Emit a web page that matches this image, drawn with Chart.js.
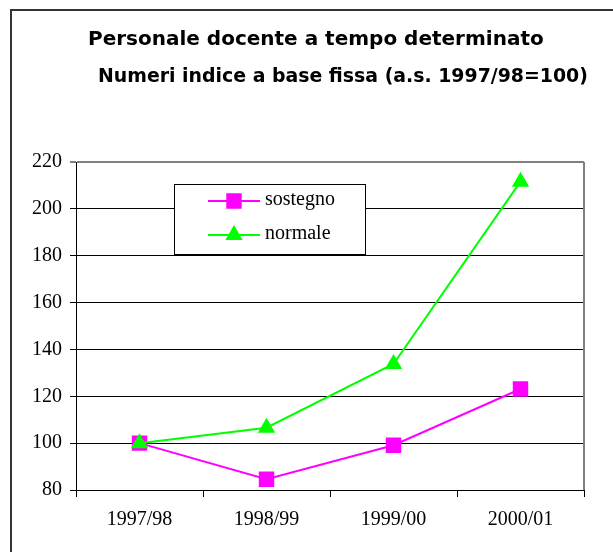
<!DOCTYPE html>
<html>
<head>
<meta charset="utf-8">
<script src="https://cdn.jsdelivr.net/npm/chart.js@4/dist/chart.umd.min.js"></script>
<style>
  html, body { margin: 0; padding: 0; background: #fff; }
  #wrap { width: 613px; height: 552px; position: relative; }
</style>
</head>
<body>
<div id="wrap"><canvas id="chart" width="613" height="552"></canvas></div>
<script>
/* ===== DATA ===== */
const years = ["1997/98", "1998/99", "1999/00", "2000/01"];
const sostegno = [100, 84.6, 99.1, 123.1];
const normale = [100, 106.6, 133.8, 211.6];
const yTicks = [80, 100, 120, 140, 160, 180, 200, 220];

const titleText = "Personale docente a tempo determinato";
const subtitleText = "Numeri indice a base fissa (a.s. 1997/98=100)";

/* ===== PLUGINS ===== */
// outer frame + titles
const frame = {
  id: "frame",
  beforeDraw(chart) {
    const ctx = chart.ctx;
    ctx.save();
    ctx.fillStyle = "#fff";
    ctx.fillRect(0, 0, chart.width, chart.height);
    ctx.strokeStyle = "#333";
    ctx.lineWidth = 2;
    ctx.strokeRect(11, 10, 700, 700);
    ctx.fillStyle = "#000";
    ctx.textBaseline = "middle";
    ctx.textAlign = "left";
    ctx.font = "bold 20px 'DejaVu Sans'";
    ctx.fillText(titleText, 88, 40);
    ctx.font = "bold 18.9px 'DejaVu Sans'";
    ctx.fillText(subtitleText, 98, 77);
    ctx.restore();
  }
};

// grey right border of plot
const plotBorder = {
  id: "plotBorder",
  beforeDatasetsDraw(chart) {
    const a = chart.chartArea, ctx = chart.ctx;
    ctx.save();
    ctx.strokeStyle = "#808080";
    ctx.lineWidth = 2;
    ctx.beginPath();
    ctx.moveTo(a.right, a.top);
    ctx.lineTo(a.right, a.bottom);
    ctx.stroke();
    ctx.restore();
  }
};

// boxed legend inside the plot
const boxLegend = {
  id: "boxLegend",
  afterDraw(chart) {
    const ctx = chart.ctx;
    const x = 174, y = 184, w = 191, h = 70;
    ctx.save();
    ctx.fillStyle = "#fff";
    ctx.fillRect(x, y, w, h);
    ctx.strokeStyle = "#000";
    ctx.lineWidth = 1;
    ctx.strokeRect(x + 0.5, y + 0.5, w, h);
    chart.data.datasets.forEach((ds, i) => {
      const cy = y + 17 + i * 34;
      ctx.strokeStyle = ds.borderColor;
      ctx.lineWidth = 2;
      ctx.beginPath();
      ctx.moveTo(x + 34, cy);
      ctx.lineTo(x + 86, cy);
      ctx.stroke();
      Chart.helpers.drawPoint(ctx, {
        pointStyle: ds.pointStyle, radius: ds.pointRadius,
        borderWidth: 1, rotation: 0
      }, x + 60, cy);
      ctx.fillStyle = ds.pointBackgroundColor;
      ctx.fill();
      ctx.fillStyle = "#000";
      ctx.font = "20px 'Liberation Serif'";
      ctx.textBaseline = "middle";
      ctx.textAlign = "left";
      ctx.fillText(ds.label, x + 91, cy - 1);
    });
    ctx.restore();
  }
};

/* ===== CHART ===== */
new Chart(document.getElementById("chart"), {
  type: "line",
  data: {
    labels: years,
    datasets: [
      {
        label: "sostegno",
        data: sostegno,
        order: 1,
        borderColor: "#ff00ff",
        backgroundColor: "#ff00ff",
        pointBackgroundColor: "#ff00ff",
        pointBorderColor: "#ff00ff",
        pointStyle: "rect",
        pointRadius: 9.5,
        borderWidth: 2,
        tension: 0
      },
      {
        label: "normale",
        data: normale,
        order: 0,
        borderColor: "#00ff00",
        backgroundColor: "#00ff00",
        pointBackgroundColor: "#00ff00",
        pointBorderColor: "#00ff00",
        pointStyle: "triangle",
        pointRadius: 8,
        borderWidth: 2,
        tension: 0
      }
    ]
  },
  options: {
    responsive: false,
    animation: false,
    layout: { padding: { left: 0, top: 162, right: 29, bottom: 0 } },
    plugins: {
      legend: { display: false },
      title: { display: false },
      tooltip: { enabled: false }
    },
    scales: {
      x: {
        offset: true,
        grid: {
          offset: true,
          drawOnChartArea: false,
          color: "#000",
          tickLength: 7
        },
        border: { color: "#000", width: 1 },
        ticks: {
          color: "#000",
          font: { family: "'Liberation Serif'", size: 20 },
          padding: 11,
          maxRotation: 0
        },
        afterFit(scale) { scale.height = 62; }
      },
      y: {
        min: 80,
        max: 220,
        afterBuildTicks(scale) {
          scale.ticks = yTicks.map(v => ({ value: v }));
        },
        grid: {
          color: ctx => ctx.tick && ctx.tick.value === 220 ? "#808080" : "#000",
          lineWidth: ctx => ctx.tick && ctx.tick.value === 220 ? 2 : 1,
          tickLength: 6
        },
        border: { color: "#000", width: 1 },
        ticks: {
          color: "#000",
          font: { family: "'Liberation Serif'", size: 20 },
          padding: 8
        },
        afterFit(scale) { scale.width = 76; }
      }
    }
  },
  plugins: [frame, plotBorder, boxLegend]
});
</script>
</body>
</html>
